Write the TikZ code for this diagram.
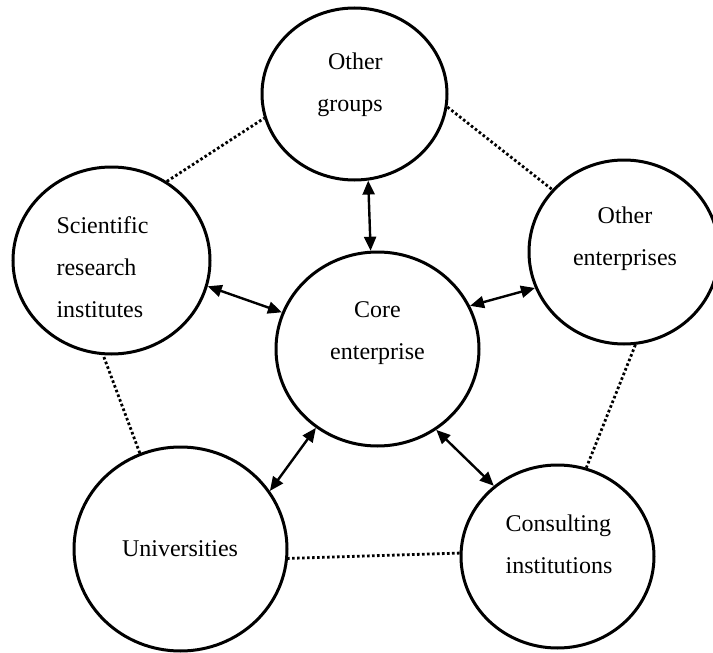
\documentclass[tikz,border=0pt]{standalone}
\usepackage{fontspec}
\setmainfont{Liberation Serif}
\usetikzlibrary{positioning, arrows.meta, shapes.geometric}

\begin{document}
\begin{tikzpicture}[x=0.5pt, y=-0.5pt,
        blob/.style={draw, ellipse, line width=1.5pt, inner sep=0pt},
        txt/.style={font=\fontsize{12}{21}\selectfont, inner sep=0pt},
        link/.style={{Triangle[length=7pt,width=6pt]}-{Triangle[length=7pt,width=6pt]}, line width=1.2pt},
        tie/.style={line width=1.4pt, dash pattern=on 1.3pt off 1.2pt}]
    \useasboundingbox (0,0) rectangle (713,653);
    % partners
    \node[blob, minimum width=101.5pt, minimum height=97pt] (core) at (377.5,349) {};
    \node[blob, minimum width=92.5pt, minimum height=86pt] (groups) at (354.5,94) {};
    \node[blob, minimum width=98.5pt, minimum height=93.5pt] (sci) at (111.5,260.5) {};
    \node[blob, minimum width=95pt, minimum height=92pt] (ent) at (624,252) {};
    \node[blob, minimum width=106.5pt, minimum height=102pt] (uni) at (180.5,549) {};
    \node[blob, minimum width=96.5pt, minimum height=91.5pt] (con) at (557.5,556.5) {};
    % texts
    \node[txt, align=center] (core-t) at (377.5,333) {Core\\enterprise};
    \node[txt, align=right] (groups-t) at (350,85) {Other\\groups};
    \node[txt, align=left] (sci-t) at (102.5,267) {Scientific\\research\\institutes};
    \node[txt, align=center] (ent-t) at (625,239) {Other\\enterprises};
    \node[txt] (uni-t) at (180,549) {Universities};
    \node[txt, align=left] (con-t) at (559,544) {Consulting\\institutions};
    % two-way links
    \foreach \a/\n/\b in {94/groups/279, 159/sci/345, 25/ent/202, 232/uni/33, 306/con/132}
        \draw[link] (core.\a) -- (\n.\b);
    % dotted ring
    \foreach \p/\q in {sci.55/groups.195, groups.352/ent.139, ent.277/con.72, con.178/uni.355, uni.113/sci.265}
        \draw[tie] (\p) -- (\q);
\end{tikzpicture}
\end{document}
